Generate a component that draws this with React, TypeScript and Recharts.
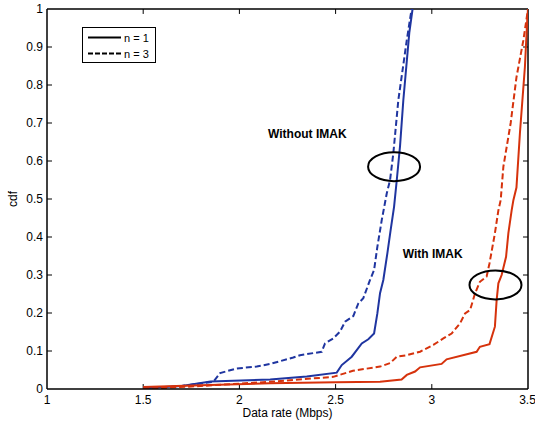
import React from "react";
import {
  LineChart,
  Line,
  XAxis,
  YAxis,
  ReferenceLine,
  ReferenceDot,
} from "recharts";

// CDF of data rate
const noImakN1X = [1.5, 1.7, 1.85, 2.16, 2.35, 2.506, 2.532, 2.584, 2.636, 2.67, 2.7, 2.717, 2.731, 2.748, 2.769, 2.786, 2.804, 2.818, 2.835, 2.852, 2.883, 2.9];
const noImakN1Y = [0.002, 0.008, 0.02, 0.025, 0.033, 0.043, 0.063, 0.085, 0.12, 0.131, 0.146, 0.199, 0.252, 0.287, 0.357, 0.418, 0.48, 0.55, 0.64, 0.76, 0.937, 1.0];

const noImakN3X = [1.5, 1.7, 1.865, 1.9, 1.986, 2.09, 2.16, 2.28, 2.315, 2.428, 2.445, 2.488, 2.523, 2.549, 2.592, 2.618, 2.644, 2.679, 2.7, 2.717, 2.74, 2.766, 2.783, 2.8, 2.826, 2.87, 2.895];
const noImakN3Y = [0, 0.008, 0.019, 0.042, 0.054, 0.059, 0.066, 0.083, 0.089, 0.098, 0.12, 0.133, 0.151, 0.177, 0.192, 0.225, 0.239, 0.287, 0.313, 0.374, 0.445, 0.515, 0.55, 0.62, 0.76, 0.918, 1.0];

const imakN1X = [1.5, 1.8, 2.159, 2.5, 2.731, 2.843, 2.87, 2.913, 2.939, 3.051, 3.077, 3.233, 3.25, 3.3, 3.328, 3.337, 3.346, 3.363, 3.386, 3.398, 3.415, 3.424, 3.44, 3.458, 3.484, 3.496, 3.5];
const imakN1Y = [0.005, 0.01, 0.015, 0.018, 0.019, 0.025, 0.037, 0.046, 0.057, 0.066, 0.078, 0.098, 0.111, 0.118, 0.164, 0.234, 0.278, 0.3, 0.348, 0.41, 0.47, 0.497, 0.53, 0.673, 0.848, 0.97, 1.0];

const imakN3X = [1.5, 1.8, 2.159, 2.488, 2.59, 2.731, 2.783, 2.818, 2.87, 2.939, 3.008, 3.06, 3.103, 3.147, 3.173, 3.199, 3.225, 3.25, 3.285, 3.3, 3.328, 3.346, 3.358, 3.372, 3.41, 3.44, 3.476, 3.5];
const imakN3Y = [0, 0.008, 0.019, 0.032, 0.048, 0.059, 0.068, 0.085, 0.089, 0.098, 0.116, 0.133, 0.146, 0.173, 0.199, 0.208, 0.252, 0.282, 0.296, 0.331, 0.41, 0.47, 0.497, 0.585, 0.7, 0.82, 0.918, 1.0];

const xTicks = [1, 1.5, 2, 2.5, 3, 3.5];
const yTicks = [0, 0.1, 0.2, 0.3, 0.4, 0.5, 0.6, 0.7, 0.8, 0.9, 1];

const BLUE = "#1f35a0";
const RED = "#d6320c";
const FONT = "Arial, 'Liberation Sans', sans-serif";

function toPoints(xs: number[], ys: number[]) {
  return xs.map((x, i) => ({ x, y: ys[i] }));
}

const tickX = 0.026;
const tickY = 0.013;

const Ellipse = (props: any) => (
  <ellipse cx={props.cx} cy={props.cy} rx={26} ry={14.5} fill="none" stroke="#000" strokeWidth={2} />
);

const note = (text: string) => (props: any) => (
  <text x={props.cx} y={props.cy} dominantBaseline="central" fontFamily={FONT} fontSize={12} fontWeight="bold" fill="#000">
    {text}
  </text>
);

export default function App() {
  const tickStyle = { fontSize: 12, fill: "#000", fontFamily: FONT };
  return (
    <div style={{ position: "absolute", left: 0, top: 0, width: 535, height: 426, background: "#fff" }}>
      <LineChart width={535} height={426} margin={{ top: 9, right: 7, bottom: 7, left: 7 }}>
        <XAxis
          type="number"
          dataKey="x"
          domain={[1, 3.5]}
          ticks={xTicks}
          allowDataOverflow
          tickLine={false}
          tickSize={0}
          tickMargin={6}
          height={30}
          axisLine={{ stroke: "#000", strokeWidth: 1.5 }}
          tick={tickStyle}
          label={{ value: "Data rate (Mbps)", position: "insideBottom", offset: 2, style: { fontSize: 12, fill: "#000", fontFamily: FONT } }}
        />
        <YAxis
          type="number"
          domain={[0, 1]}
          ticks={yTicks}
          allowDataOverflow
          tickLine={false}
          tickSize={0}
          tickMargin={4}
          width={40}
          axisLine={{ stroke: "#000", strokeWidth: 1.5 }}
          tick={tickStyle}
          label={{ value: "cdf", angle: -90, position: "insideLeft", offset: 6, style: { fontSize: 12, fill: "#000", fontFamily: FONT, textAnchor: "middle" } }}
        />
        <ReferenceLine y={1} stroke="#000" strokeWidth={1.5} />
        <ReferenceLine x={3.5} stroke="#000" strokeWidth={1.5} />
        {xTicks.slice(1, -1).map((t) => (
          <ReferenceLine key={"b" + t} segment={[{ x: t, y: 0 }, { x: t, y: tickY }]} stroke="#000" />
        ))}
        {xTicks.slice(1, -1).map((t) => (
          <ReferenceLine key={"t" + t} segment={[{ x: t, y: 1 }, { x: t, y: 1 - tickY }]} stroke="#000" />
        ))}
        {yTicks.slice(1, -1).map((t) => (
          <ReferenceLine key={"l" + t} segment={[{ x: 1, y: t }, { x: 1 + tickX, y: t }]} stroke="#000" />
        ))}
        {yTicks.slice(1, -1).map((t) => (
          <ReferenceLine key={"r" + t} segment={[{ x: 3.5, y: t }, { x: 3.5 - tickX, y: t }]} stroke="#000" />
        ))}
        <Line data={toPoints(noImakN3X, noImakN3Y)} dataKey="y" type="linear" stroke={BLUE} strokeWidth={2} strokeDasharray="6 3" dot={false} isAnimationActive={false} />
        <Line data={toPoints(noImakN1X, noImakN1Y)} dataKey="y" type="linear" stroke={BLUE} strokeWidth={2} dot={false} isAnimationActive={false} />
        <Line data={toPoints(imakN3X, imakN3Y)} dataKey="y" type="linear" stroke={RED} strokeWidth={2} strokeDasharray="6 3" dot={false} isAnimationActive={false} />
        <Line data={toPoints(imakN1X, imakN1Y)} dataKey="y" type="linear" stroke={RED} strokeWidth={2} dot={false} isAnimationActive={false} />
        <ReferenceDot x={2.804} y={0.585} shape={Ellipse} />
        <ReferenceDot x={3.331} y={0.274} shape={Ellipse} />
        <ReferenceDot x={2.149} y={0.671} shape={note("Without IMAK")} />
        <ReferenceDot x={2.849} y={0.355} shape={note("With IMAK")} />
      </LineChart>
      <div
        style={{
          position: "absolute",
          left: 82,
          top: 27,
          width: 74,
          height: 36,
          border: "1px solid #000",
          background: "#fff",
          fontFamily: FONT,
          fontSize: 11,
          boxSizing: "border-box",
        }}
      >
        <svg width={72} height={34} style={{ position: "absolute", left: 0, top: 0 }}>
          <line x1={5} x2={38} y1={9.5} y2={9.5} stroke="#000" strokeWidth={2} />
          <line x1={5} x2={38} y1={25.5} y2={25.5} stroke="#000" strokeWidth={2} strokeDasharray="5 2" />
          <text x={41} y={13.5} fontSize={11} fontFamily={FONT}>n = 1</text>
          <text x={41} y={29.5} fontSize={11} fontFamily={FONT}>n = 3</text>
        </svg>
      </div>
    </div>
  );
}
